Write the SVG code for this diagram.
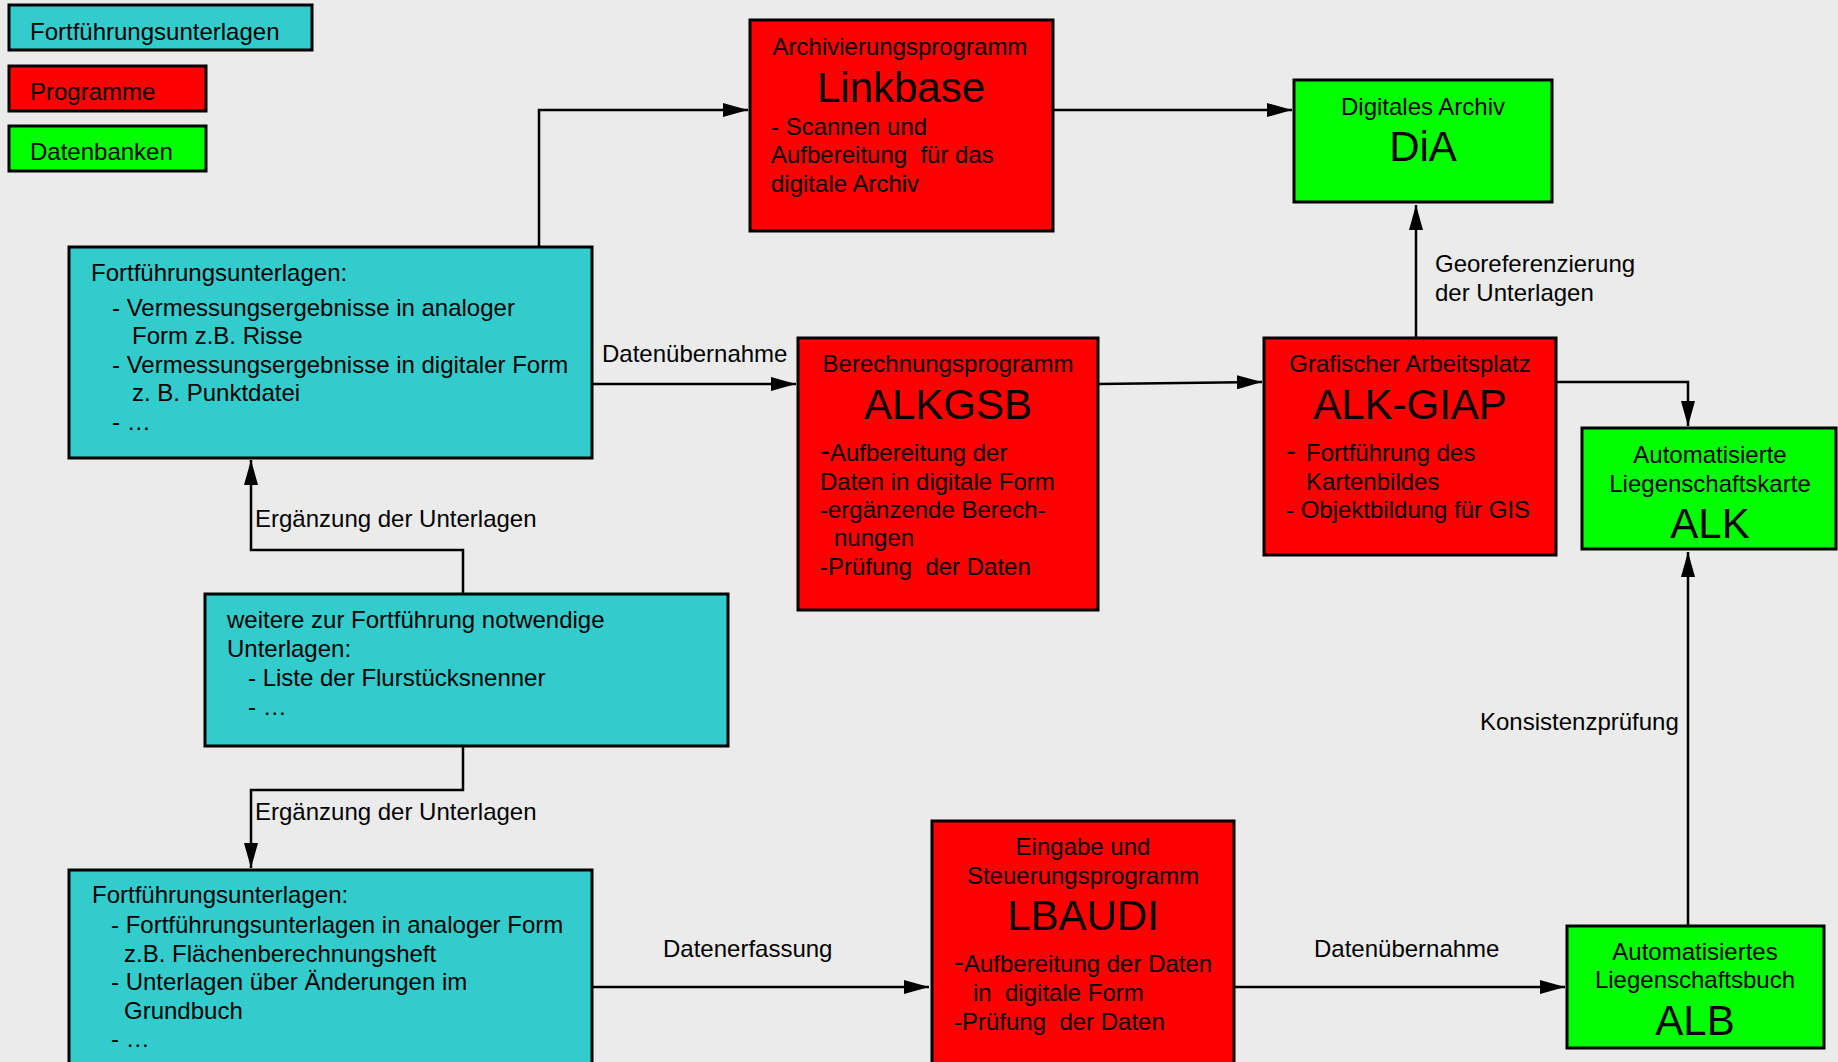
<svg xmlns="http://www.w3.org/2000/svg" width="1838" height="1062" viewBox="0 0 1838 1062">
<style>
.t{font-family:"Liberation Sans",Arial,sans-serif;font-size:24px;fill:#000;white-space:pre}
.big{font-size:42px}
.c{text-anchor:middle}
.box{stroke:#000;stroke-width:3}
.cy{fill:#33CCCC}.rd{fill:#FF0000}.gr{fill:#00FF00}
.conn{fill:none;stroke:#000;stroke-width:2.5}
.dash{font-size:30px}
</style>
<defs>
<marker id="arr" markerUnits="userSpaceOnUse" markerWidth="25" markerHeight="14" refX="25" refY="7" orient="auto">
<path d="M0,0 L25,7 L0,14 z" fill="#000"/>
</marker>
</defs>
<rect x="0" y="0" width="1838" height="1062" fill="#EBEBEB"/>

<g id="legend-fortfuehrung">
<rect class="box cy" x="9" y="5" width="303" height="45"/>
<text class="t" x="30" y="40">Fortführungsunterlagen</text>
</g>
<g id="legend-programme">
<rect class="box rd" x="9" y="66" width="197" height="45"/>
<text class="t" x="30" y="100">Programme</text>
</g>
<g id="legend-datenbanken">
<rect class="box gr" x="9" y="126" width="197" height="45"/>
<text class="t" x="30" y="160">Datenbanken</text>
</g>

<g id="connectors">
<path class="conn" d="M539,246 V110 H748" marker-end="url(#arr)"/>
<path class="conn" d="M1053,110 H1292" marker-end="url(#arr)"/>
<path class="conn" d="M592,384 H796" marker-end="url(#arr)"/>
<path class="conn" d="M1098,384 L1262,382" marker-end="url(#arr)"/>
<path class="conn" d="M1416,338 V205" marker-end="url(#arr)"/>
<path class="conn" d="M1556,382 H1688 V426" marker-end="url(#arr)"/>
<path class="conn" d="M1688,926 V552" marker-end="url(#arr)"/>
<path class="conn" d="M463,594 V550 H251 V460" marker-end="url(#arr)"/>
<path class="conn" d="M463,746 V790 H251 V868" marker-end="url(#arr)"/>
<path class="conn" d="M592,987 H929" marker-end="url(#arr)"/>
<path class="conn" d="M1235,987 H1565" marker-end="url(#arr)"/>
<text class="t" x="602" y="362">Datenübernahme</text>
<text class="t" x="255" y="527">Ergänzung der Unterlagen</text>
<text class="t" x="255" y="820">Ergänzung der Unterlagen</text>
<text class="t" x="1435" y="272">Georeferenzierung</text>
<text class="t" x="1435" y="301">der Unterlagen</text>
<text class="t" x="1480" y="730">Konsistenzprüfung</text>
<text class="t" x="663" y="957">Datenerfassung</text>
<text class="t" x="1314" y="957">Datenübernahme</text>
</g>

<g id="fortfuehrung-vermessung">
<rect class="box cy" x="69" y="247" width="523" height="211"/>
<text class="t" x="91" y="281">Fortführungsunterlagen:</text>
<text class="t" x="112" y="316">- Vermessungsergebnisse in analoger</text>
<text class="t" x="132" y="344">Form z.B. Risse</text>
<text class="t" x="112" y="373">- Vermessungsergebnisse in digitaler Form</text>
<text class="t" x="132" y="401">z. B. Punktdatei</text>
<text class="t" x="112" y="430">- …</text>
</g>

<g id="linkbase">
<rect class="box rd" x="750" y="20" width="303" height="211"/>
<text class="t c" x="900" y="55">Archivierungsprogramm</text>
<text class="t big c" x="901" y="102">Linkbase</text>
<text class="t" x="771" y="135">- Scannen und</text>
<text class="t" x="771" y="163">Aufbereitung  für das</text>
<text class="t" x="771" y="192">digitale Archiv</text>
</g>

<g id="dia">
<rect class="box gr" x="1294" y="80" width="258" height="122"/>
<text class="t c" x="1423" y="115">Digitales Archiv</text>
<text class="t big c" x="1423" y="161">DiA</text>
</g>

<g id="alkgsb">
<rect class="box rd" x="798" y="338" width="300" height="272"/>
<text class="t c" x="948" y="372">Berechnungsprogramm</text>
<text class="t big c" x="948" y="419">ALKGSB</text>
<text class="t" x="820" y="461"><tspan class="dash">-</tspan>Aufbereitung der</text>
<text class="t" x="820" y="490">Daten in digitale Form</text>
<text class="t" x="820" y="518">-ergänzende Berech-</text>
<text class="t" x="834" y="546">nungen</text>
<text class="t" x="820" y="575">-Prüfung  der Daten</text>
</g>

<g id="alk-giap">
<rect class="box rd" x="1264" y="338" width="292" height="217"/>
<text class="t c" x="1410" y="372">Grafischer Arbeitsplatz</text>
<text class="t big c" x="1410" y="419">ALK-GIAP</text>
<text class="t" x="1286" y="461"><tspan class="dash">-</tspan><tspan x="1306">Fortführung des</tspan></text>
<text class="t" x="1306" y="490">Kartenbildes</text>
<text class="t" x="1286" y="518">- Objektbildung für GIS</text>
</g>

<g id="alk">
<rect class="box gr" x="1582" y="428" width="254" height="121"/>
<text class="t c" x="1710" y="463">Automatisierte</text>
<text class="t c" x="1710" y="492">Liegenschaftskarte</text>
<text class="t big c" x="1710" y="538">ALK</text>
</g>

<g id="weitere-unterlagen">
<rect class="box cy" x="205" y="594" width="523" height="152"/>
<text class="t" x="227" y="628">weitere zur Fortführung notwendige</text>
<text class="t" x="227" y="657">Unterlagen:</text>
<text class="t" x="248" y="686">- Liste der Flurstücksnenner</text>
<text class="t" x="248" y="715">- …</text>
</g>

<g id="fortfuehrung-grundbuch">
<rect class="box cy" x="69" y="870" width="523" height="200"/>
<text class="t" x="92" y="903">Fortführungsunterlagen:</text>
<text class="t" x="111" y="933">- Fortführungsunterlagen in analoger Form</text>
<text class="t" x="124" y="962">z.B. Flächenberechnungsheft</text>
<text class="t" x="111" y="990">- Unterlagen über Änderungen im</text>
<text class="t" x="124" y="1019">Grundbuch</text>
<text class="t" x="111" y="1047">- …</text>
</g>

<g id="lbaudi">
<rect class="box rd" x="932" y="821" width="302" height="250"/>
<text class="t c" x="1083" y="855">Eingabe und</text>
<text class="t c" x="1083" y="884">Steuerungsprogramm</text>
<text class="t big c" x="1083" y="930">LBAUDI</text>
<text class="t" x="954" y="972"><tspan class="dash">-</tspan>Aufbereitung der Daten</text>
<text class="t" x="973" y="1001">in  digitale Form</text>
<text class="t" x="954" y="1030">-Prüfung  der Daten</text>
</g>

<g id="alb">
<rect class="box gr" x="1567" y="926" width="257" height="122"/>
<text class="t c" x="1695" y="960">Automatisiertes</text>
<text class="t c" x="1695" y="988">Liegenschaftsbuch</text>
<text class="t big c" x="1695" y="1035">ALB</text>
</g>
</svg>
